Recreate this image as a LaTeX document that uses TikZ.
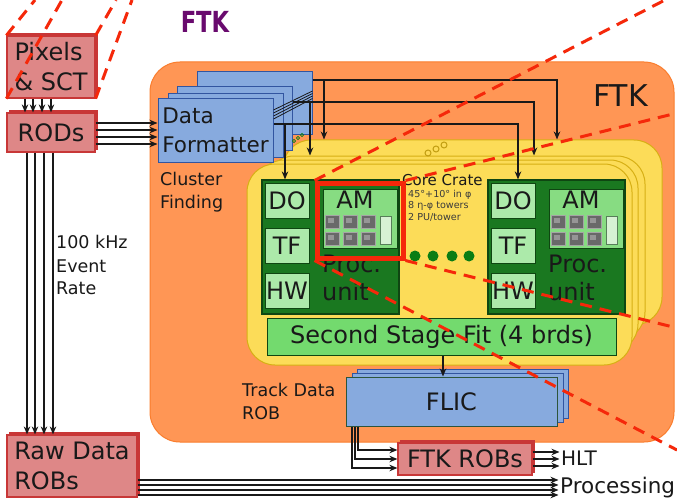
\documentclass[tikz,border=0pt]{standalone}
\usepackage{fontspec}
\usepackage{graphicx}
\setmainfont{DejaVu Sans}
\usetikzlibrary{arrows.meta,shadows}

\definecolor{pinkfill}{RGB}{222,135,135}
\definecolor{pinkline}{RGB}{200,55,55}
\definecolor{bluefill}{RGB}{135,170,222}
\definecolor{blueline}{RGB}{50,85,160}
\definecolor{flicline}{RGB}{45,85,60}
\definecolor{orangefill}{RGB}{255,150,85}
\definecolor{orangeline}{RGB}{250,125,45}
\definecolor{yellowfill}{RGB}{252,220,88}
\definecolor{yellowline}{RGB}{215,175,20}
\definecolor{pufill}{RGB}{26,120,32}
\definecolor{puline}{RGB}{15,70,18}
\definecolor{palegreen}{RGB}{172,234,170}
\definecolor{amgreen}{RGB}{135,220,130}
\definecolor{ssfgreen}{RGB}{115,218,110}
\definecolor{dotgreen}{RGB}{10,125,20}
\definecolor{chipgray}{RGB}{105,105,105}
\definecolor{chipedge}{RGB}{165,165,165}
\definecolor{slotfill}{RGB}{215,242,212}
\definecolor{zoomred}{RGB}{245,40,10}
\definecolor{ftkpurple}{RGB}{105,10,110}
\definecolor{ink}{RGB}{25,25,25}

\newcommand\setfs[2]{\fontsize{#1}{#2}\selectfont}

\tikzset{
  arr/.style={-{Stealth[length=8pt,width=6.5pt]}, line width=1.4pt, draw=ink},
  pinkbox/.style={draw=pinkline, fill=pinkfill, line width=1.2pt, inner sep=0pt,
    general shadow={fill=pinkline, draw=pinkline, shadow xshift=2.5pt, shadow yshift=2.5pt},
    font=\setfs{24}{30}, text=ink},
  ftkbox/.style={draw=orangeline, fill=orangefill, line width=1pt, rounded corners=30pt,
    minimum width=524pt, minimum height=380pt},
  crate/.style={draw=yellowline, fill=yellowfill, line width=1pt, rounded corners=28pt},
  dfbox/.style={draw=blueline, fill=bluefill, line width=1pt, minimum width=115pt,
    minimum height=63pt, inner sep=0pt},
  flicbox/.style={draw=blueline, fill=bluefill, line width=1pt, minimum width=211pt,
    minimum height=49pt, inner sep=0pt, font=\setfs{24}{30}, text=ink},
  pu/.style={draw=puline, fill=pufill, line width=1.2pt, minimum width=137pt, minimum height=134pt},
  pale/.style={draw=puline, fill=palegreen, line width=0.8pt, minimum width=44pt,
    minimum height=35pt, inner sep=0pt, font=\setfs{24}{30}, text=ink},
  amcard/.style={draw=puline, fill=amgreen, line width=0.8pt, minimum width=74pt, minimum height=59pt},
  chip/.style={fill=chipgray, draw=chipedge, line width=0.9pt},
  ssf/.style={draw=puline, fill=ssfgreen, line width=1pt, minimum width=349pt,
    minimum height=37pt, inner sep=0pt, font=\setfs{24}{30}, text=ink},
  lbl/.style={font=\setfs{17.5}{23}, text=ink, inner sep=0pt, anchor=base west},
  tiny/.style={font=\setfs{9.6}{11.5}, text=ink!85, inner sep=0pt, anchor=base west},
  word/.style={font=\setfs{24}{30}, text=ink, inner sep=0pt},
  hilite/.style={draw=zoomred, line width=5pt, minimum width=86pt, minimum height=75pt},
  zoomline/.style={draw=zoomred, line width=3pt, dash pattern=on 12pt off 8pt},
}

\begin{document}
\begin{tikzpicture}[x=1pt,y=-1pt]
\useasboundingbox (0,0) rectangle (677,500);
\fill[white] (0,0) rectangle (677,500);

% title
\node[font=\setfs{29}{34}\bfseries, text=ftkpurple, anchor=base, inner sep=0pt]
  (title) at (205,33) {\scalebox{0.78}[1]{FTK}};

% FTK system outline and its labels
\node[ftkbox] (ftk) at (412,252) {};
\node[font=\setfs{30}{36}, text=ink, inner sep=0pt, anchor=base west] (ftkname) at (593,107) {FTK};
\node[lbl] (cf1) at (160,185) {Cluster};
\node[lbl] (cf2) at (160,208) {Finding};
\node[lbl] (td1) at (242,396) {Track Data};
\node[lbl] (td2) at (242,419) {ROB};
\node[lbl] (rate1) at (56,248) {100 kHz};
\node[lbl] (rate2) at (56,272) {Event};
\node[lbl] (rate3) at (56,294) {Rate};

% stacked core crates
\node[crate, minimum width=379pt, minimum height=185pt] (crate4) at (472.5,232.5) {};
\node[crate, minimum width=379pt, minimum height=184pt] (crate3) at (455.5,248) {};
\node[crate, minimum width=382pt, minimum height=192pt] (crate2) at (447,256) {};
\node[crate, minimum width=385pt, minimum height=201pt] (crate1) at (439.5,264.5) {};
\foreach \px/\py in {428/153,436/149,444/145}
  \draw[yellowline!90!black, line width=1pt] (\px,\py) circle[radius=3pt];

% data formatter boards
\node[dfbox] (df4) at (254.5,103.5) {};
\node[dfbox] (df3) at (234.5,118.5) {};
\node[dfbox] (df2) at (225.5,125.5) {};
\node[dfbox, align=left, font=\setfs{21.5}{29}, text=ink] (df1) at (215.5,130.5) {Data\\Formatter};
\foreach \i in {0,1,2,3}
  \draw[ink, line width=0.8pt] (df1.east |- 0,110+3*\i) -- (df4.east |- 0,91+2.5*\i);
\foreach \px/\py in {294/141,298/138,302/135}
  \draw[dotgreen, line width=0.7pt] (\px,\py) circle[radius=1.6pt];

% processing units
\foreach \s/\dx in {L/0,R/226} {
  \node[pu] (pu\s) at (330.5+\dx,247) {};
  \node[pale] (do\s) at (287+\dx,200.5) {DO};
  \node[pale] (tf\s) at (287+\dx,245.5) {TF};
  \node[pale] (hw\s) at (287+\dx,290.5) {HW};
  \node[amcard] (am\s) at (360+\dx,218.5) {};
  \node[word, anchor=base] (amt\s) at (355+\dx,208) {AM};
  \foreach \cx in {325,343,361} {
    \foreach \cy in {215,232} {
      \filldraw[chip] (\cx+\dx,\cy) rectangle ++(14,13);
      \fill[chipgray!70!white] (\cx+\dx+3,\cy+3) rectangle ++(6,5);
    }
  }
  \filldraw[fill=slotfill, draw=puline!70!white, line width=0.8pt] (380+\dx,216) rectangle (391+\dx,244);
  \node[word, anchor=base west] (proc\s) at (322+\dx,272) {Proc.};
  \node[word, anchor=base west] (unit\s) at (322+\dx,300) {unit};
}

% core crate description
\node[font=\setfs{15}{18}, text=ink, inner sep=0pt, anchor=base west] (cc) at (402,185) {Core Crate};
\node[tiny] (cc1) at (408,197) {45°+10° in φ};
\node[tiny] (cc2) at (408,208.5) {8 η-φ towers};
\node[tiny] (cc3) at (408,220) {2 PU/tower};
\foreach \px in {415,433,452,469}
  \fill[dotgreen] (\px,256) circle[radius=5.5pt];

% feeds from the data formatters to the crates
\coordinate (j1) at (324,80);
\coordinate (j2) at (310,102);
\coordinate (j3) at (285,124);
\draw[arr] (df4.east |- j1) -| (crate4.north -| 557,0);
\draw[arr] (j1) -- (crate4.north -| j1);
\draw[arr] (df3.east |- j2) -| (crate3.north -| 534,0);
\draw[arr] (j2) -- (crate3.north -| j2);
\draw[arr] (df1.east |- j3) -| (puR.north -| 518,0);
\draw[arr] (j3) -- (puL.north -| j3);

% second stage fit and FLIC
\node[ssf] (ssf) at (441.5,336.5) {Second Stage Fit (4 brds)};
\node[flicbox] (flic3) at (462.5,393.5) {};
\node[flicbox] (flic2) at (457.5,397.5) {};
\node[flicbox, draw=flicline] (flic1) at (451.5,401.5) {FLIC};
\draw[arr] (ssf.south -| 443,0) -- (flic1.north -| 443,0);

% detector read-out chain
\node[pinkbox, minimum width=88pt, minimum height=62pt, align=left] (pix) at (51,67) {Pixels\\\& SCT};
\node[pinkbox, minimum width=88pt, minimum height=39pt] (rods) at (51,132.5) {RODs};
\node[pinkbox, minimum width=130pt, minimum height=62pt, align=left] (raw) at (72,466) {Raw Data\\ROBs};
\node[pinkbox, minimum width=134pt, minimum height=32pt] (robs) at (465,459) {FTK ROBs};
\node[font=\setfs{20}{24}, text=ink, inner sep=0pt, anchor=base west] (hlt) at (561,465) {HLT};
\node[font=\setfs{21.5}{26}, text=ink, inner sep=0pt, anchor=base west] (proc) at (560,493) {Processing};

\foreach \x in {25,33,42,51}
  \draw[arr] (pix.south -| \x,0) -- (rods.north -| \x,0);
\foreach \y in {123,130,137,144}
  \draw[arr] (rods.east |- 0,\y) -- (df1.west |- 0,\y);
\foreach \x in {27,35,44,53}
  \draw[arr] (rods.south -| \x,0) -- (raw.north -| \x,0);
\foreach \y in {480,485,490,495}
  \draw[arr, shorten >=1.5pt] (raw.east |- 0,\y) -- (proc.west |- 0,\y);
\foreach \y in {452,459,466}
  \draw[arr, shorten >=1.5pt] (robs.east |- 0,\y) -- (hlt.west |- 0,\y);
\draw[arr] (flic1.south -| 352,0) |- (robs.west |- 0,468);
\draw[arr] (flic1.south -| 355,0) |- (robs.west |- 0,459);
\draw[arr] (flic1.south -| 358,0) |- (robs.west |- 0,450);

% highlighted associative memory board and its zoom lines
\node[hilite] (hl) at (360,220.5) {};
\coordinate (eB) at (665,0);
\coordinate (eC) at (677,113);
\coordinate (eD) at (677,328);
\coordinate (eE) at (677,450);
\draw[zoomline] (hl.north west) -- (eB);
\draw[zoomline] (hl.north east) -- (eC);
\draw[zoomline] (hl.south east) -- (eD);
\draw[zoomline] (hl.south west) -- (eE);

% detector zoom lines
\coordinate (tA) at (35,0);
\coordinate (tB) at (62,0);
\coordinate (tC) at (132,0);
\coordinate (tD) at (116,0);
\draw[zoomline] (pix.north west) -- (tA);
\draw[zoomline] (pix.south west) -- (tB);
\draw[zoomline] (pix.south east) -- (tC);
\draw[zoomline] (pix.north east) -- (tD);
\end{tikzpicture}
\end{document}
